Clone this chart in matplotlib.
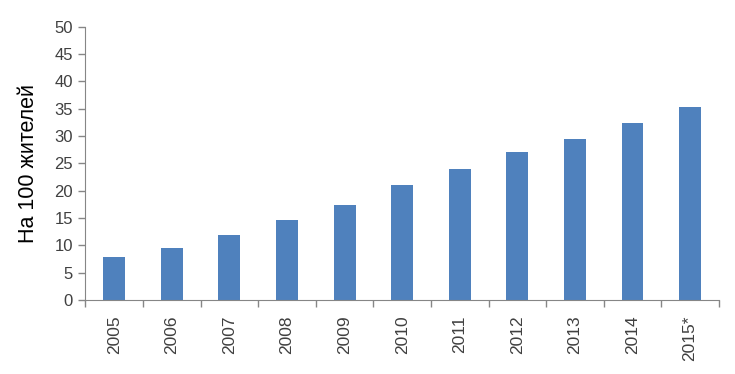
import matplotlib.pyplot as plt
import numpy as np

years = ["2005", "2006", "2007", "2008", "2009", "2010",
         "2011", "2012", "2013", "2014", "2015*"]
per_100 = [7.9, 9.5, 11.9, 14.6, 17.4, 21.0, 24.0, 27.1, 29.5, 32.4, 35.3]
y_ticks = [0, 5, 10, 15, 20, 25, 30, 35, 40, 45, 50]

plt.rcParams["font.family"] = ["Liberation Sans", "DejaVu Sans"]

fig = plt.figure(figsize=(7.35, 3.74), dpi=100)
ax = fig.add_axes([0.1163, 0.198, 0.978 - 0.1163, 0.9286 - 0.198])

x = np.arange(len(years))
ax.bar(x, per_100, width=0.38, color="#4F81BD")

ax.set_xlim(-0.5, len(years) - 0.5)
ax.set_ylim(0, 50)
ax.set_yticks(y_ticks)
ax.set_yticklabels([str(t) for t in y_ticks])

# category labels in the middle, tick marks between categories
ax.set_xticks(x)
ax.set_xticklabels(years, rotation=90)
ax.set_xticks(np.arange(len(years) + 1) - 0.5, minor=True)
ax.tick_params(axis="x", which="major", length=0, pad=11,
               labelsize=12.5, labelcolor="#404040")
ax.tick_params(axis="x", which="minor", length=5, width=1, color="#868686")
ax.tick_params(axis="y", length=5, width=1, color="#868686",
               labelsize=12, labelcolor="#404040", pad=4)

for side in ("top", "right"):
    ax.spines[side].set_visible(False)
for side in ("left", "bottom"):
    ax.spines[side].set_color("#868686")

ax.set_ylabel("На 100 жителей", fontsize=15.5, color="black", labelpad=11)

fig.savefig("out.png", dpi=100)
